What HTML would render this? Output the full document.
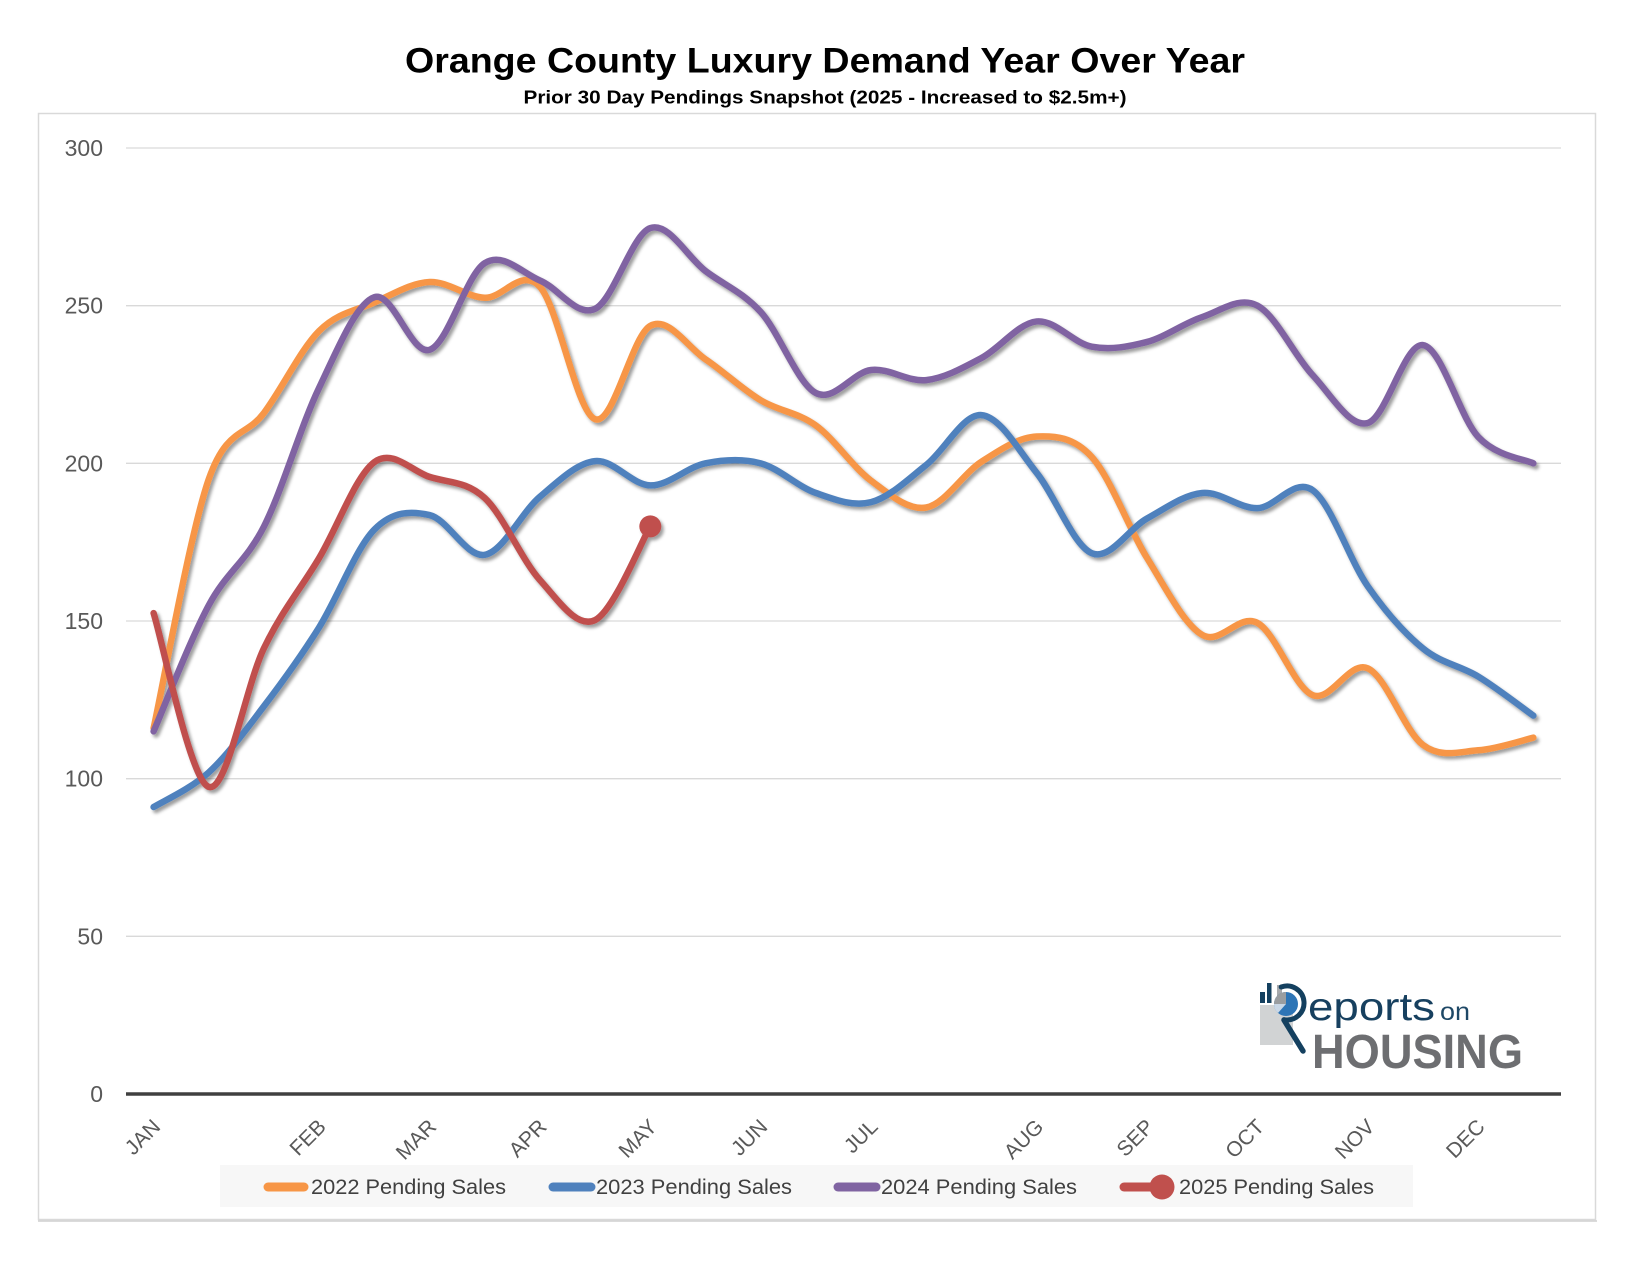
<!DOCTYPE html>
<html><head><meta charset="utf-8"><style>
html,body{margin:0;padding:0;background:#fff;}
svg{display:block;}
text{font-family:"Liberation Sans",Arial,sans-serif;}
</style></head><body>
<svg id="c" width="1650" height="1275" viewBox="0 0 1650 1275" xmlns="http://www.w3.org/2000/svg">
<defs>
<filter id="sh" filterUnits="userSpaceOnUse" x="0" y="0" width="1650" height="1275">
<feDropShadow dx="2.5" dy="3" stdDeviation="1.6" flood-color="#000" flood-opacity="0.38"/>
</filter>
</defs>
<rect width="1650" height="1275" fill="#fff"/>
<text x="825" y="72.5" text-anchor="middle" font-size="35" font-weight="bold" fill="#000" textLength="840" lengthAdjust="spacingAndGlyphs">Orange County Luxury Demand Year Over Year</text>
<text x="825" y="103.5" text-anchor="middle" font-size="18.5" font-weight="bold" fill="#000" textLength="603" lengthAdjust="spacingAndGlyphs">Prior 30 Day Pendings Snapshot (2025 - Increased to $2.5m+)</text>
<rect x="38.5" y="113.5" width="1557" height="1106" fill="#fff" stroke="#d9d9d9" stroke-width="1.5"/>
<line x1="38" y1="1221" x2="1597" y2="1221" stroke="#cfcfcf" stroke-width="1.5"/>
<g stroke="#d9d9d9" stroke-width="1.3">
<line x1="126" y1="148" x2="1561" y2="148"/>
<line x1="126" y1="305.7" x2="1561" y2="305.7"/>
<line x1="126" y1="463.3" x2="1561" y2="463.3"/>
<line x1="126" y1="621" x2="1561" y2="621"/>
<line x1="126" y1="778.7" x2="1561" y2="778.7"/>
<line x1="126" y1="936.3" x2="1561" y2="936.3"/>
</g>
<g font-size="23" fill="#595959" text-anchor="end">
<text x="103" y="156">300</text>
<text x="103" y="313.7">250</text>
<text x="103" y="471.3">200</text>
<text x="103" y="629">150</text>
<text x="103" y="786.7">100</text>
<text x="103" y="944.3">50</text>
<text x="103" y="1102">0</text>
</g>

<!-- logo -->
<g>
<rect x="1260" y="1005" width="33" height="40" fill="#d1d3d4"/>
<rect x="1260" y="992" width="5" height="11" fill="#14405f"/>
<rect x="1267" y="983" width="4.5" height="20" fill="#14405f"/>
<rect x="1277" y="985" width="5" height="17" fill="#a7a9ac"/>
<circle cx="1286" cy="1004" r="12" fill="#2e75b6"/>
<path d="M1286,1004 L1274,1004 A12,12 0 0,1 1286,992 Z" fill="#9a9da0"/>
<path d="M1286,1004 L1274,1004 A12,12 0 0,0 1278,1013 Z" fill="#c9d7e6"/>
<path d="M1281.2,987 A17,17 0 1,1 1284,1019.7" fill="none" stroke="#14405f" stroke-width="5" stroke-linecap="round"/>
<line x1="1284" y1="1020" x2="1303" y2="1051" stroke="#14405f" stroke-width="5.5" stroke-linecap="round"/>
<text x="1308" y="1020" font-size="38.5" fill="#17405f" textLength="127" lengthAdjust="spacingAndGlyphs">eports</text>
<text x="1440" y="1020" font-size="25" fill="#1e4866" textLength="30" lengthAdjust="spacingAndGlyphs">on</text>
<text x="1312" y="1068" font-size="48" font-weight="bold" fill="#6d6e71" textLength="211" lengthAdjust="spacingAndGlyphs">HOUSING</text>
</g>

<line x1="126" y1="1094" x2="1561" y2="1094" stroke="#404040" stroke-width="3.5"/>

<g id="xl" font-size="21" fill="#595959" text-anchor="end"></g>

<g id="series" fill="none" stroke-width="6.5" stroke-linecap="round" stroke-linejoin="round" filter="url(#sh)"></g>

<!-- legend -->
<rect x="220" y="1165" width="1193" height="42" fill="#f7f7f7"/>
<g stroke-width="9" stroke-linecap="round">
<line x1="268" y1="1187" x2="304" y2="1187" stroke="#F79646"/>
<line x1="553" y1="1187" x2="591" y2="1187" stroke="#4F81BD"/>
<line x1="838" y1="1187" x2="876" y2="1187" stroke="#8064A2"/>
<line x1="1124" y1="1187" x2="1160" y2="1187" stroke="#C0504D"/>
</g>
<circle cx="1162" cy="1187" r="12.5" fill="#C0504D"/>
<g font-size="21.5" fill="#404040">
<text x="311" y="1194" textLength="195" lengthAdjust="spacingAndGlyphs">2022 Pending Sales</text>
<text x="596" y="1194" textLength="196" lengthAdjust="spacingAndGlyphs">2023 Pending Sales</text>
<text x="881" y="1194" textLength="196" lengthAdjust="spacingAndGlyphs">2024 Pending Sales</text>
<text x="1179" y="1194" textLength="195" lengthAdjust="spacingAndGlyphs">2025 Pending Sales</text>
</g>
</svg>
<script>
(function(){
var NS="http://www.w3.org/2000/svg";
var X0=153.6, DX=55.19, Y0=1094, SY=3.1533;
var data=[
 ["#F79646",[116,195,216,242,251,257.5,252.5,256,214,243.6,233,220,212,194.5,186,200.5,208.5,202,170,145.6,149.4,126.5,135,110.7,109,113]],
 ["#4F81BD",[91,102,123,148,179,183.6,171,189.4,200.7,193,200,200,190.6,187.7,199.5,215.3,197,171.5,182.5,190.6,185.8,191.5,161,141.3,132.4,120]],
 ["#8064A2",[115,155,180,224,252.7,236,263.5,258,249,274.6,261,248,222.3,229.6,226.4,233.4,245,237,238.5,246.4,250,228,212.8,237.5,208.4,200]],
 ["#C0504D",[152.5,97.4,141.4,170,200.4,195.7,189,163,150.3,180]]
];
function f(n){return n.toFixed(2);}
var g=document.getElementById("series");
data.forEach(function(s){
 var p=s[1].map(function(v,i){return [X0+DX*i, Y0-SY*v];});
 var d="M"+f(p[0][0])+","+f(p[0][1]);
 for(var i=0;i<p.length-1;i++){
  var p0=p[i>0?i-1:0], p1=p[i], p2=p[i+1], p3=p[i+2<p.length?i+2:p.length-1];
  var c1x=p1[0]+(p2[0]-p0[0])/6, c1y=p1[1]+(p2[1]-p0[1])/6;
  var c2x=p2[0]-(p3[0]-p1[0])/6, c2y=p2[1]-(p3[1]-p1[1])/6;
  d+=" C"+f(c1x)+","+f(c1y)+" "+f(c2x)+","+f(c2y)+" "+f(p2[0])+","+f(p2[1]);
 }
 var el=document.createElementNS(NS,"path");
 el.setAttribute("d",d); el.setAttribute("stroke",s[0]);
 g.appendChild(el);
});
var last=data[3][1];
var c=document.createElementNS(NS,"circle");
c.setAttribute("cx",X0+DX*(last.length-1)); c.setAttribute("cy",Y0-SY*last[last.length-1]);
c.setAttribute("r","11"); c.setAttribute("fill","#C0504D"); c.setAttribute("stroke","none");
g.appendChild(c);
var months=[["JAN",0],["FEB",3],["MAR",5],["APR",7],["MAY",9],["JUN",11],["JUL",13],["AUG",16],["SEP",18],["OCT",20],["NOV",22],["DEC",24]];
var xl=document.getElementById("xl");
months.forEach(function(m){
 var x=X0+DX*m[1]+8, y=1128;
 var t=document.createElementNS(NS,"text");
 t.setAttribute("x",x); t.setAttribute("y",y);
 t.setAttribute("transform","rotate(-45 "+x+" "+y+")");
 t.textContent=m[0];
 xl.appendChild(t);
});
})();
</script>
</body></html>
